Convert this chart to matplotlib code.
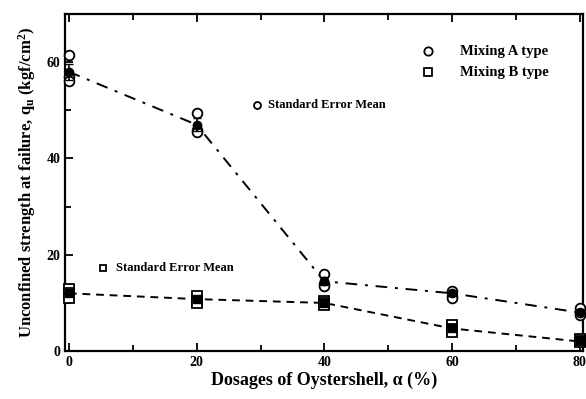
import matplotlib
matplotlib.use("Agg")
import matplotlib.pyplot as plt
from matplotlib.ticker import MultipleLocator

plt.rcParams['font.family'] = ['Liberation Serif', 'DejaVu Serif']
plt.rcParams['font.weight'] = 'bold'
plt.rcParams['mathtext.fontset'] = 'custom'
plt.rcParams['mathtext.rm'] = 'Liberation Serif:bold'
plt.rcParams['mathtext.it'] = 'Liberation Serif:bold'
plt.rcParams['mathtext.bf'] = 'Liberation Serif:bold'

dosage = [0, 20, 40, 60, 80]

# individual specimens, mixing A
a_samples = [[61.5, 57.0, 56.0], [49.5, 46.0, 45.5], [16.0, 14.0, 13.5],
             [12.5, 11.5, 11.0], [9.0, 8.0, 7.5]]
a_mean = [58.0, 47.0, 14.5, 12.0, 8.0]
a_sem = [1.7, 1.3, 0.8, 0.5, 0.5]

# individual specimens, mixing B
b_samples = [[13.0, 12.0, 11.0], [11.5, 10.5, 10.0], [10.5, 10.0, 9.5],
             [5.5, 4.5, 4.0], [2.5, 2.0, 1.8]]
b_mean = [12.0, 10.8, 10.0, 4.7, 2.0]
b_sem = [0.6, 0.5, 0.3, 0.5, 0.2]

fig = plt.figure(figsize=(5.86, 3.99), dpi=100)
ax = fig.add_axes([0.111, 0.120, 0.884, 0.845])

for x, vals in zip(dosage, a_samples):
    ax.plot([x] * len(vals), vals, 'o', mfc='white', mec='black', ms=7, mew=1.3,
            clip_on=False, zorder=3)
for x, vals in zip(dosage, b_samples):
    ax.plot([x] * len(vals), vals, 's', mfc='white', mec='black', ms=7, mew=1.3,
            clip_on=False, zorder=3)

ax.plot(dosage, a_mean, color='black', lw=1.4, dashes=[6, 4, 1.5, 4], zorder=2)
ax.plot(dosage, b_mean, color='black', lw=1.4, dashes=[4, 3], zorder=2)

ax.errorbar(dosage, a_mean, yerr=a_sem, fmt='o', color='black', ms=6,
            capsize=3, elinewidth=1.2, clip_on=False, zorder=4)
ax.errorbar(dosage, b_mean, yerr=b_sem, fmt='s', color='black', ms=6,
            capsize=3, elinewidth=1.2, clip_on=False, zorder=4)

# legend
ax.plot([56.2], [62.3], 'o', mfc='white', mec='black', ms=6, mew=1.3)
ax.plot([56.2], [57.9], 's', mfc='white', mec='black', ms=6, mew=1.3)
ax.text(61.2, 62.3, 'Mixing A type', fontsize=10.5, va='center', weight='bold')
ax.text(61.2, 57.9, 'Mixing B type', fontsize=10.5, va='center', weight='bold')

# standard error notes
ax.plot([29.4], [51.0], marker='o', ms=5, mfc='white', mec='black', mew=1.3)
ax.text(31.1, 51.0, 'Standard Error Mean', fontsize=9, va='center', weight='bold')
ax.plot([5.3], [17.3], marker='s', ms=4.5, mfc='white', mec='black', mew=1.3)
ax.text(7.3, 17.3, 'Standard Error Mean', fontsize=9, va='center', weight='bold')

ax.set_xlim(-0.6, 80.5)
ax.set_ylim(0, 70)
ax.xaxis.set_major_locator(MultipleLocator(20))
ax.xaxis.set_minor_locator(MultipleLocator(10))
ax.yaxis.set_major_locator(MultipleLocator(20))
ax.yaxis.set_minor_locator(MultipleLocator(10))
ax.tick_params(which='both', direction='in', top=True, right=False, width=1.3,
               labelsize=10)
ax.tick_params(which='major', length=6)
ax.tick_params(which='minor', length=4)
for lab in ax.get_xticklabels() + ax.get_yticklabels():
    lab.set_fontweight('bold')
for s in ax.spines.values():
    s.set_linewidth(1.6)

ax.set_xlabel('Dosages of Oystershell, α (%)', fontsize=13,
              weight='bold', labelpad=2)
ax.set_ylabel(r'Unconfined strength at failure, q$_\mathrm{u}$ (kgf/cm$^\mathrm{2}$)',
              fontsize=12, weight='bold', labelpad=6)

fig.savefig('out.png', dpi=100)
